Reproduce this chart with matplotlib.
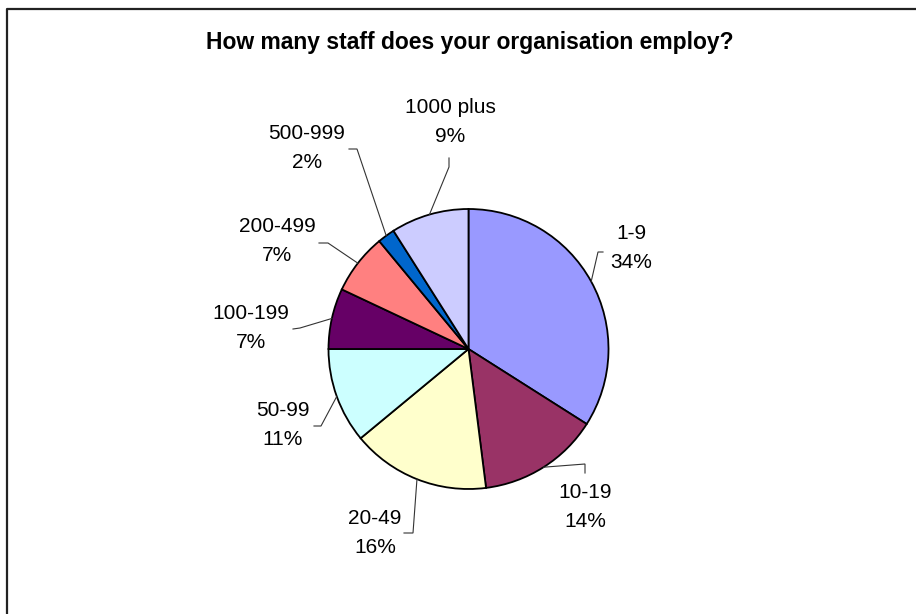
import numpy as np
import matplotlib.pyplot as plt

categories = ['1-9', '10-19', '20-49', '50-99', '100-199', '200-499', '500-999', '1000 plus']
shares = [34, 14, 16, 11, 7, 7, 2, 9]
colours = ['#9999FF', '#993366', '#FFFFCC', '#CCFFFF', '#660066', '#FF8080', '#0066CC', '#CCCCFF']

# label centres and leader routing (elbow, end next to the label), in pixels from top-left
label_xy = [(631, 248), (585, 507), (375, 533), (283, 425), (251, 328), (277, 241), (307, 148), (450, 122)]
elbow_xy = [(598, 252), (585, 464), (413, 533), (321, 426), (300, 328), (328, 243), (357, 149), (449, 167)]
end_xy = [(603, 252), (585, 473), (404, 533), (314, 426), (293, 329), (319, 243), (349, 149), (449, 158)]

W, H = 916, 614
CX, CY, R = 468.5, 349, 140

plt.rcParams['font.family'] = ['Liberation Sans', 'DejaVu Sans']

fig = plt.figure(figsize=(W / 100, H / 100), dpi=100)
ax = fig.add_axes([0, 0, 1, 1])

# y axis runs downwards, so counterclockwise from -90 reads clockwise from 12 o'clock
wedges, _ = ax.pie(shares, colors=colours, startangle=-90, counterclock=True,
                   center=(CX, CY), radius=R,
                   wedgeprops=dict(edgecolor='black', linewidth=1.3))

ax.set_xlim(0, W)
ax.set_ylim(H, 0)
ax.set_aspect('equal')
ax.axis('off')

for w, cat, pct, lab, elb, end in zip(wedges, categories, shares, label_xy, elbow_xy, end_xy):
    mid = np.deg2rad((w.theta1 + w.theta2) / 2)
    sx = CX + R * np.cos(mid)
    sy = CY + R * np.sin(mid)
    ax.plot([sx, elb[0], end[0]], [sy, elb[1], end[1]], color='#333333', lw=0.8,
            solid_joinstyle='miter')
    ax.text(lab[0], lab[1], f'{cat}\n{pct}%', ha='center', va='center',
            fontsize=15, linespacing=1.62, color='black')

ax.text(470, 43, 'How many staff does your organisation employ?', ha='center', va='center',
        fontsize=16.5, fontweight='bold')

# chart border: only the top and left edges fall inside the canvas
ax.plot([6.5, 6.5, W + 5], [H + 5, 8.5, 8.5], color='#222222', lw=1.6, clip_on=False)

fig.savefig('out.png', dpi=100)
